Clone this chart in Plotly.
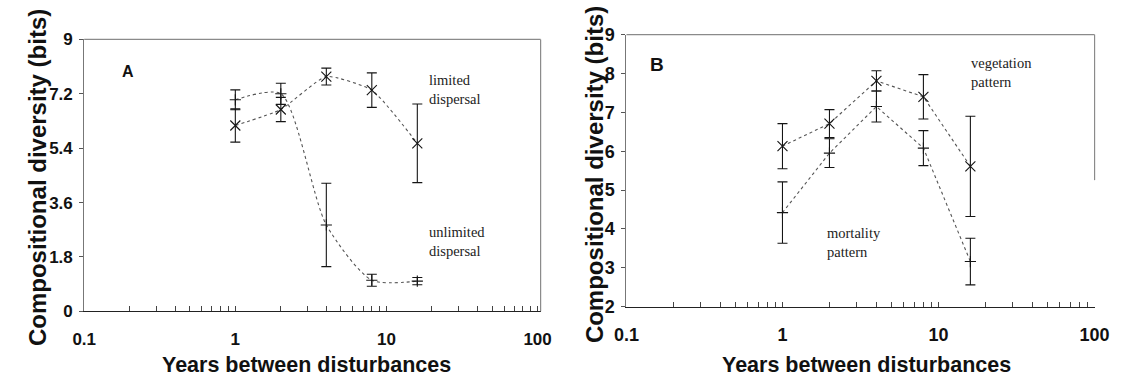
import plotly.graph_objects as go

# ---------------- data ----------------
years = [1, 2, 4, 8, 16]

# Panel A
a_limited = [6.15, 6.68, 7.77, 7.32, 5.56]
a_limited_err = [0.55, 0.40, 0.28, 0.57, 1.30]
a_unlimited = [7.00, 7.20, 2.86, 1.03, 1.00]
a_unlimited_err = [0.33, 0.35, 1.38, 0.20, 0.12]

# Panel B
b_vegetation = [6.13, 6.71, 7.81, 7.40, 5.61]
b_vegetation_err = [0.58, 0.36, 0.26, 0.57, 1.29]
b_mortality = [4.42, 5.95, 7.15, 6.08, 3.16]
b_mortality_err = [0.79, 0.37, 0.40, 0.45, 0.60]

a_yticks = [0, 1.8, 3.6, 5.4, 7.2, 9]
a_yticktext = ["0", "1.8", "3.6", "5.4", "7.2", "9"]
b_yticks = [2, 3, 4, 5, 6, 7, 8, 9]
x_major = [0.1, 1, 10, 100]
x_major_text = ["0.1", "1", "10", "100"]

# all log ticks 0.1..100 (minor ticks unlabeled)
x_tickvals = []
x_ticktext = []
for i, dec in enumerate(x_major[:-1]):
    for m in range(1, 10):
        x_tickvals.append(round(dec * m, 6))
        x_ticktext.append(x_major_text[i] if m == 1 else "")
x_tickvals.append(x_major[-1])
x_ticktext.append(x_major_text[-1])

INK = "#151515"
DOT = "#555555"

fig = go.Figure()


def add_series(xa, ya, y, err, symbol, size, shape, smoothing):
    line = dict(color=DOT, width=1.1, dash="dot", shape=shape)
    if shape == "spline":
        line["smoothing"] = smoothing
    fig.add_trace(go.Scatter(
        x=years, y=y, xaxis=xa, yaxis=ya,
        mode="lines+markers",
        line=line,
        marker=dict(symbol=symbol, size=size, color=INK,
                    line=dict(color=INK, width=1.1)),
        error_y=dict(type="data", array=err, visible=True,
                     color=INK, thickness=1.1, width=5),
        showlegend=False, hoverinfo="x+y",
    ))


add_series("x", "y", a_limited, a_limited_err, "x-thin-open", 10, "spline", 0.5)
add_series("x", "y", a_unlimited, a_unlimited_err, "cross-thin-open", 8, "spline", 0.7)
add_series("x2", "y2", b_vegetation, b_vegetation_err, "x-thin-open", 10, "linear", 0)
add_series("x2", "y2", b_mortality, b_mortality_err, "cross-thin-open", 8, "linear", 0)

W, H = 1132, 382


def px_x(p):
    return p / W


def px_y(p):
    return 1 - p / H


SANS = "Liberation Sans, Arial"
tickfont_a = dict(family=SANS, size=17, color="#111", weight="bold")
tickfont_b = dict(family=SANS, size=18, color="#111", weight="bold")

xaxis_common = dict(
    type="log", tickvals=x_tickvals, ticktext=x_ticktext,
    ticks="inside", ticklen=5, tickcolor="#444", tickwidth=1,
    showline=True, linecolor="#222", linewidth=1.2,
    showgrid=False, zeroline=False, ticklabelstandoff=12,
)
yaxis_common = dict(
    ticks="outside", ticklen=4, tickcolor="#555",
    showline=True, linecolor="#777", linewidth=1,
    showgrid=False, zeroline=False, ticklabelstandoff=3,
)

fig.update_layout(
    width=W, height=H,
    margin=dict(l=0, r=0, t=0, b=0),
    paper_bgcolor="white", plot_bgcolor="white",
    xaxis=dict(domain=[px_x(73), px_x(541)], anchor="y", range=[-1, 2.02],
               tickfont=tickfont_a, **xaxis_common),
    yaxis=dict(domain=[px_y(318), px_y(31)], anchor="x", range=[0, 9],
               tickvals=a_yticks, ticktext=a_yticktext, tickfont=tickfont_a, **yaxis_common),
    xaxis2=dict(domain=[px_x(629), px_x(1109)], anchor="y2", range=[-1, 2],
                tickfont=tickfont_b, **xaxis_common),
    yaxis2=dict(domain=[px_y(313), px_y(26)], anchor="x2", range=[2, 9],
                tickvals=b_yticks, tickfont=tickfont_b, **yaxis_common),
)

# frame top / right edges (gray, as in the scan)
frame = dict(color="#8a8a8a", width=1.2)
fig.add_shape(type="line", xref="x domain", yref="y domain", x0=0, x1=1, y0=1, y1=1, line=frame)
fig.add_shape(type="line", xref="x domain", yref="y domain", x0=1, x1=1, y0=0, y1=1, line=frame)
fig.add_shape(type="line", xref="x2 domain", yref="y2 domain", x0=0, x1=1, y0=1, y1=1, line=frame)
fig.add_shape(type="line", xref="x2 domain", yref="y2 domain", x0=1, x1=1, y0=0.465, y1=1, line=frame)

serif = dict(family="Liberation Serif, Times New Roman", size=14.5, color="#222")

annotations = [
    # panel letters
    dict(x=px_x(118), y=px_y(65), text="<b>A</b>", font=dict(family=SANS, size=16, color="#111")),
    dict(x=px_x(660), y=px_y(58), text="<b>B</b>", font=dict(family=SANS, size=19, color="#111")),
    # curve labels
    dict(x=px_x(424), y=px_y(84), text="limited<br>dispersal", font=serif, xanchor="left", align="left"),
    dict(x=px_x(425), y=px_y(244), text="unlimited<br>dispersal", font=serif, xanchor="left", align="left"),
    dict(x=px_x(980), y=px_y(66), text="vegetation<br>pattern", font=serif, xanchor="left", align="left"),
    dict(x=px_x(833), y=px_y(245), text="mortality<br>pattern", font=serif, xanchor="left", align="left"),
    # axis titles
    dict(x=px_x(25), y=px_y(177), text="<b>Compositional diversity (bits)</b>", textangle=-90,
         font=dict(family=SANS, size=24, color="#111")),
    dict(x=px_x(597), y=px_y(174), text="<b>Compositional diversity (bits)</b>", textangle=-90,
         font=dict(family=SANS, size=24, color="#111")),
    dict(x=px_x(301), y=px_y(375), text="<b>Years between disturbances</b>",
         font=dict(family=SANS, size=21.5, color="#111")),
    dict(x=px_x(875), y=px_y(375), text="<b>Years between disturbances</b>",
         font=dict(family=SANS, size=21.5, color="#111")),
]
for a in annotations:
    a.setdefault("xanchor", "center")
    fig.add_annotation(xref="paper", yref="paper", yanchor="middle", showarrow=False, **a)

fig.write_html("out.html")
